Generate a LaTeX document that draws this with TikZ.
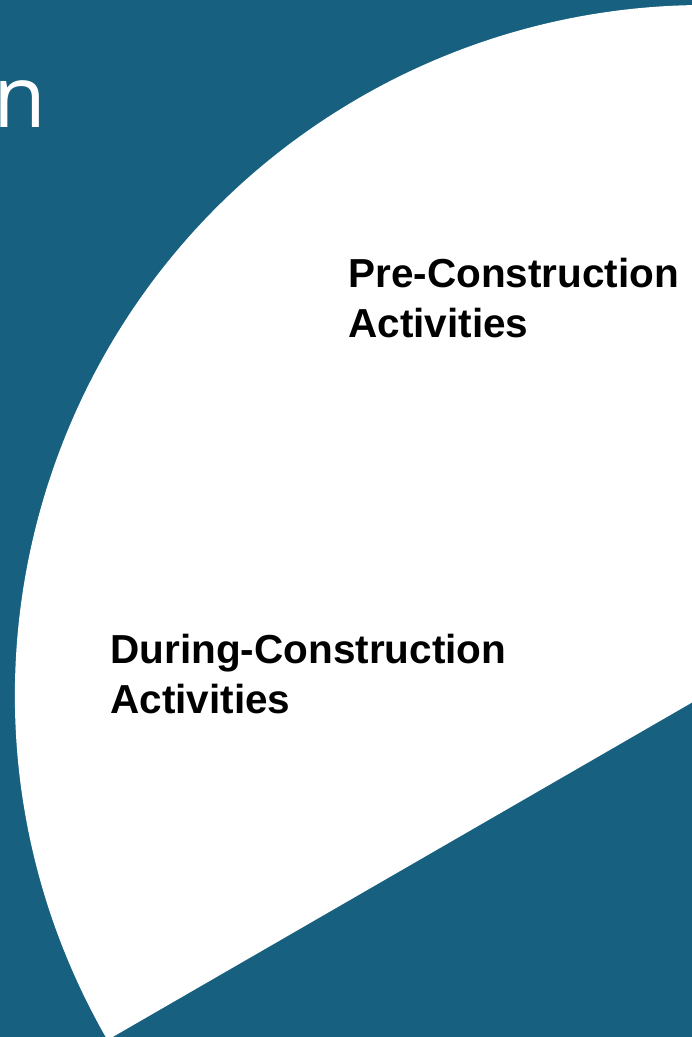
\documentclass[tikz,border=0pt]{standalone}
\usepackage{fontspec}
\setmainfont{Liberation Sans}
\newfontfamily\titlefont{Open Sans}
\definecolor{slideblue}{RGB}{23,96,128}
\tikzset{every picture/.style={line width=0.75pt}}
\tikzset{phase label/.style={anchor=north west, inner sep=0pt, align=left, font=\fontsize{40.5}{50}\selectfont\bfseries}}

\begin{document}
\begin{tikzpicture}[x=1pt,y=1pt,yscale=-1]
\useasboundingbox (0,0) rectangle (692,1037);
\clip (0,0) rectangle (692,1037);
%Shape: Rectangle [id:background] 
\fill [slideblue] (0,0) rectangle (692,1037);
%Shape: Pie sector [id:sector] 
\coordinate (hub) at (705,695);
\fill [white] (hub) -- ++(150:690) arc [start angle=150, end angle=280, radius=690] -- cycle;

% Text Node
\node (title) [anchor=base west, inner sep=0pt, text=white, font=\titlefont\fontsize{86}{100}\selectfont] at (-7,127) {n};
% Text Node
\node (pre) [phase label] at (348,258) {Pre-Construction\\Activities};
% Text Node
\node (during) [phase label] at (110,634) {During-Construction\\Activities};

\end{tikzpicture}
\end{document}
